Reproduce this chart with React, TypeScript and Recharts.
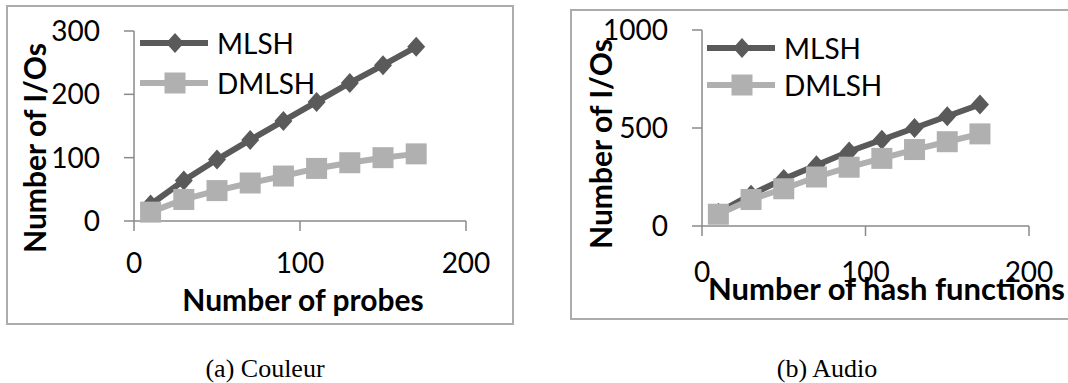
import React from "react";
import { LineChart, Line, XAxis, YAxis, Legend } from "recharts";

const xValues = [10, 30, 50, 70, 90, 110, 130, 150, 170];
const couleurMLSH = [26, 64, 97, 128, 158, 188, 218, 246, 275];
const couleurDMLSH = [14, 34, 48, 60, 71, 83, 92, 100, 106];
const audioMLSH = [68, 160, 240, 310, 380, 440, 500, 560, 620];
const audioDMLSH = [60, 135, 190, 250, 300, 345, 390, 430, 470];

const xTicks = [0, 100, 200];
const couleurYTicks = [0, 100, 200, 300];
const audioYTicks = [0, 500, 1000];

const DARK = "#5a5a5a";
const LIGHT = "#b0b0b0";
const AXIS = "#8a8a8a";
const FONT = "Lato";

const buildRows = (a: number[], b: number[]) =>
	xValues.map((x, i) => ({ x, MLSH: a[i], DMLSH: b[i] }));

const couleurData = buildRows(couleurMLSH, couleurDMLSH);
const audioData = buildRows(audioMLSH, audioDMLSH);

const diamond = (cx: number, cy: number, color: string, key?: any) => (
	<path key={key} d={`M${cx},${cy - 10} L${cx + 9},${cy} L${cx},${cy + 10} L${cx - 9},${cy} Z`} fill={color} />
);
const square = (cx: number, cy: number, color: string, key?: any) => (
	<rect key={key} x={cx - 10.5} y={cy - 10.5} width={21} height={21} fill={color} />
);

const renderDiamond = (p: any) => diamond(p.cx, p.cy, DARK, `d-${p.index}`);
const renderSquare = (p: any) => square(p.cx, p.cy, LIGHT, `s-${p.index}`);

function LegendBox({ gap }: { gap: number }) {
	const items = [
		{ name: "MLSH", color: DARK, mark: diamond },
		{ name: "DMLSH", color: LIGHT, mark: square },
	];
	return (
		<svg width={200} height={gap * 2 + 10} style={{ overflow: "visible", display: "block" }}>
			{items.map((it, i) => {
				const y = 20 + i * gap;
				return (
					<g key={it.name}>
						<line x1={0} y1={y} x2={68} y2={y} stroke={it.color} strokeWidth={6} />
						{it.mark(35, y, it.color)}
						<text x={77} y={y} dominantBaseline="central" fontFamily={FONT} fontSize={28} fill="#000">
							{it.name}
						</text>
					</g>
				);
			})}
		</svg>
	);
}

interface PanelProps {
	left: number;
	width: number;
	data: any[];
	margin: { top: number; right: number; bottom: number; left: number };
	yMax: number;
	yTicks: number[];
	xTickMargin: number;
	yTitle: { x: number; y: number };
	xTitle: { text: string; x: number; y: number; anchor: "start" | "middle"; size: number };
	legend: { left: number; top: number; gap: number };
}

function Panel(props: PanelProps) {
	const { left, width, data, margin, yMax, yTicks, xTickMargin, yTitle, xTitle, legend } = props;
	const tickStyle = { fill: "#000", fontSize: 28, fontFamily: FONT };
	return (
		<div style={{ position: "absolute", left, top: 0 }}>
			<LineChart width={width} height={330} data={data} margin={margin}>
				<XAxis
					type="number"
					dataKey="x"
					domain={[0, 200]}
					ticks={xTicks}
					interval={0}
					height={60}
					tickSize={10}
					tickMargin={xTickMargin}
					axisLine={{ stroke: AXIS, strokeWidth: 1.5 }}
					tickLine={{ stroke: AXIS, strokeWidth: 1.5 }}
					tick={tickStyle}
					label={{
						content: () => (
							<text x={xTitle.x} y={xTitle.y} textAnchor={xTitle.anchor} fontFamily={FONT} fontWeight={700} fontSize={xTitle.size} fill="#000">
								{xTitle.text}
							</text>
						),
					}}
				/>
				<YAxis
					type="number"
					domain={[0, yMax]}
					ticks={yTicks}
					interval={0}
					width={60}
					tickSize={10}
					tickMargin={24}
					axisLine={{ stroke: AXIS, strokeWidth: 1.5 }}
					tickLine={{ stroke: AXIS, strokeWidth: 1.5 }}
					tick={tickStyle}
					label={{
						content: () => (
							<text
								x={yTitle.x}
								y={yTitle.y}
								transform={`rotate(-90 ${yTitle.x} ${yTitle.y})`}
								textAnchor="middle"
								dominantBaseline="central"
								fontFamily={FONT}
								fontWeight={700}
								fontSize={30}
								fill="#000"
							>
								Number of I/Os
							</text>
						),
					}}
				/>
				<Legend
					layout="vertical"
					align="center"
					verticalAlign="middle"
					wrapperStyle={{ left: legend.left, top: legend.top, width: "auto" }}
					content={() => <LegendBox gap={legend.gap} />}
				/>
				<Line
					type="linear"
					dataKey="MLSH"
					stroke={DARK}
					strokeWidth={6}
					dot={renderDiamond}
					activeDot={false}
					isAnimationActive={false}
				/>
				<Line
					type="linear"
					dataKey="DMLSH"
					stroke={LIGHT}
					strokeWidth={6}
					dot={renderSquare}
					activeDot={false}
					isAnimationActive={false}
				/>
			</LineChart>
		</div>
	);
}

export default function App() {
	return (
		<div style={{ position: "absolute", left: 0, top: 0, width: 1068, height: 383, overflow: "hidden", background: "#fff" }}>
			<div style={{ position: "absolute", left: 6, top: 5, width: 504, height: 316, border: "2px solid #acacac" }} />
			<div style={{ position: "absolute", left: 570, top: 9, width: 520, height: 307, border: "2px solid #acacac" }} />
			<Panel
				left={0}
				width={520}
				data={couleurData}
				margin={{ top: 31, right: 54, bottom: 49, left: 74 }}
				yMax={300}
				yTicks={couleurYTicks}
				xTickMargin={22}
				yTitle={{ x: 34, y: 148 }}
				xTitle={{ text: "Number of probes", x: 303, y: 311, anchor: "middle", size: 30 }}
				legend={{ left: 140, top: 23, gap: 40 }}
			/>
			<Panel
				left={540}
				width={528}
				data={audioData}
				margin={{ top: 30, right: 39, bottom: 44, left: 102 }}
				yMax={1000}
				yTicks={audioYTicks}
				xTickMargin={26}
				yTitle={{ x: 60, y: 144 }}
				xTitle={{ text: "Number of hash functions", x: 168, y: 300, anchor: "start", size: 31 }}
				legend={{ left: 167, top: 28, gap: 37 }}
			/>
			<div style={{ position: "absolute", left: 0, width: 530, top: 354, textAlign: "center", fontFamily: "'Liberation Serif', serif", fontSize: 26 }}>
				(a) Couleur
			</div>
			<div style={{ position: "absolute", left: 560, width: 534, top: 354, textAlign: "center", fontFamily: "'Liberation Serif', serif", fontSize: 26 }}>
				(b) Audio
			</div>
		</div>
	);
}
